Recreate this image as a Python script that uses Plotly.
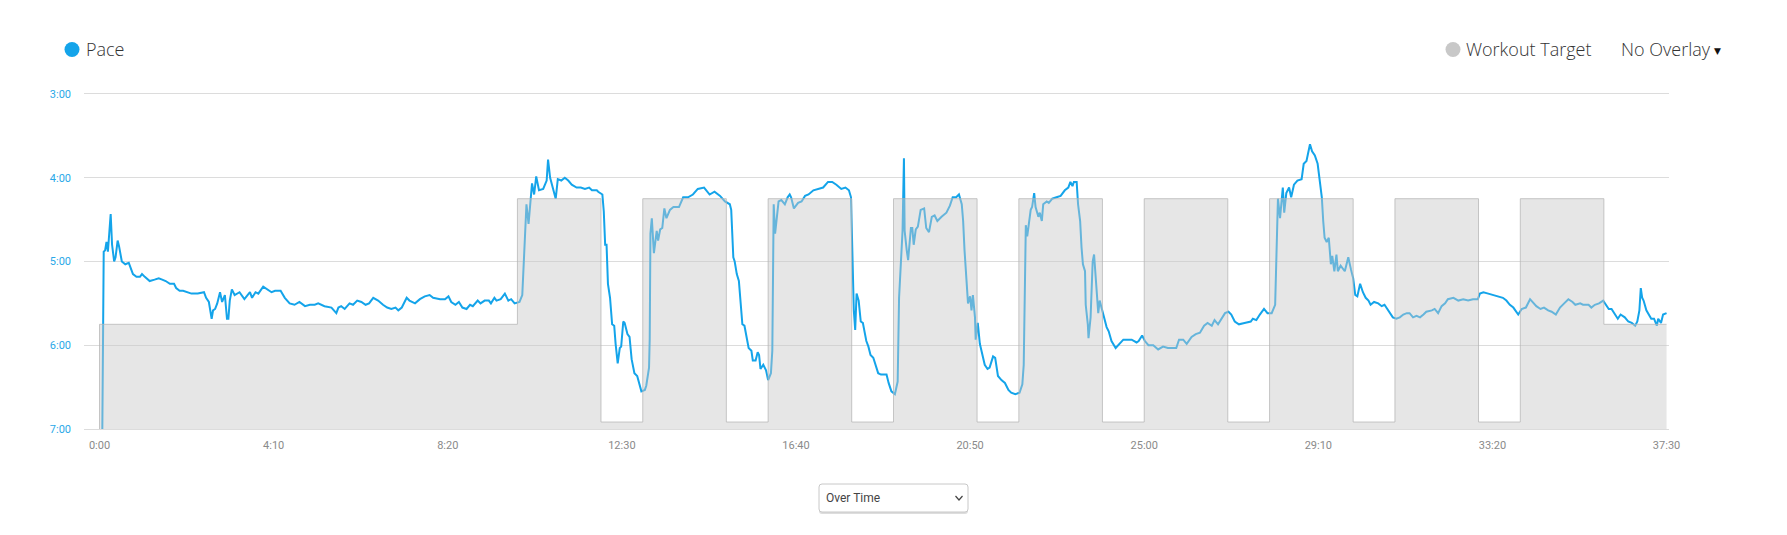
import plotly.graph_objects as go

# ---------------- data ----------------
# Pace samples: elapsed time (s) and pace (seconds per km)
time_s = [4, 6, 8, 10, 12, 16, 18, 21, 23, 26, 28, 32, 37, 42, 48, 53, 58, 61, 65, 72, 79, 85, 90, 95, 101, 107, 110,
          115, 120, 125, 132, 141, 150, 153, 157, 161, 163, 166, 169, 173, 176, 180, 183, 185, 187, 190, 194, 201, 208,
          216, 219, 224, 228, 235, 242, 247, 252, 260, 266, 273, 280, 287, 295, 302, 309, 314, 323, 333, 340, 343, 347,
          352, 359, 364, 370, 376, 382, 387, 393, 400, 407, 413, 419, 425, 429, 434, 441, 445, 453, 460, 467, 474, 479,
          489, 496, 501, 505, 511, 516, 521, 527, 532, 536, 543, 547, 553, 559, 562, 567, 570, 576, 582, 587, 591, 596,
          603, 607, 610, 613, 616, 619, 621, 624, 627, 631, 637, 642, 644, 647, 651, 655, 658, 663, 668, 673, 678, 685,
          691, 697, 703, 707, 714, 716, 722, 724, 726, 728, 730, 733, 736, 739, 741, 744, 747, 749, 752, 754, 758, 761,
          764, 768, 772, 776, 778, 783, 785, 789, 790, 791, 793, 796, 800, 802, 805, 808, 811, 814, 819, 824, 832, 838,
          845, 852, 859, 868, 876, 883, 891, 898, 905, 907, 910, 912, 915, 918, 921, 923, 926, 929, 932, 936, 938, 942,
          945, 947, 949, 953, 957, 960, 964, 966, 968, 970, 972, 975, 979, 984, 988, 991, 993, 997, 1003, 1008, 1013,
          1018, 1025, 1032, 1039, 1046, 1052, 1058, 1065, 1071, 1076, 1079, 1081, 1083, 1085, 1087, 1090, 1093, 1096,
          1099, 1101, 1104, 1107, 1111, 1114, 1118, 1122, 1127, 1130, 1133, 1137, 1142, 1146, 1148, 1151, 1153, 1155,
          1156, 1159, 1161, 1165, 1167, 1169, 1172, 1175, 1179, 1184, 1187, 1191, 1195, 1199, 1203, 1209, 1216, 1221,
          1225, 1230, 1234, 1238, 1240, 1242, 1245, 1247, 1250, 1252, 1254, 1257, 1258, 1261, 1264, 1269, 1271, 1275,
          1278, 1283, 1286, 1290, 1295, 1300, 1305, 1309, 1315, 1321, 1325, 1327, 1329, 1330, 1332, 1334, 1337, 1339,
          1342, 1344, 1348, 1350, 1353, 1355, 1360, 1363, 1368, 1374, 1380, 1386, 1391, 1394, 1397, 1399, 1403, 1405,
          1408, 1410, 1412, 1415, 1416, 1419, 1420, 1423, 1426, 1428, 1430, 1432, 1434, 1436, 1440, 1443, 1446, 1449,
          1453, 1459, 1464, 1470, 1474, 1482, 1489, 1492, 1497, 1501, 1506, 1513, 1520, 1527, 1534, 1546, 1550, 1556,
          1561, 1568, 1574, 1580, 1586, 1591, 1597, 1601, 1606, 1611, 1616, 1621, 1625, 1630, 1636, 1644, 1653, 1656,
          1661, 1666, 1672, 1677, 1683, 1688, 1690, 1692, 1695, 1697, 1699, 1701, 1704, 1708, 1711, 1715, 1720, 1726,
          1729, 1733, 1738, 1741, 1745, 1749, 1752, 1755, 1757, 1759, 1762, 1765, 1768, 1770, 1773, 1776, 1778, 1782,
          1788, 1793, 1797, 1800, 1803, 1806, 1810, 1814, 1818, 1822, 1825, 1830, 1836, 1841, 1845, 1850, 1857, 1862,
          1867, 1872, 1877, 1881, 1886, 1891, 1896, 1901, 1905, 1913, 1917, 1922, 1927, 1932, 1936, 1944, 1951, 1958,
          1965, 1972, 1979, 1982, 1987, 1994, 2001, 2008, 2015, 2020, 2025, 2030, 2035, 2037, 2042, 2048, 2054, 2059,
          2063, 2069, 2074, 2080, 2085, 2091, 2097, 2103, 2109, 2115, 2119, 2126, 2130, 2138, 2142, 2147, 2153, 2159,
          2164, 2167, 2171, 2176, 2180, 2184, 2190, 2195, 2200, 2205, 2208, 2211, 2213, 2215, 2217, 2221, 2225, 2228,
          2232, 2236, 2238, 2242, 2245, 2250]
pace_s = [420, 293, 292, 286, 293, 266, 288, 300, 297, 285, 289, 300, 302, 301, 309, 311, 311, 309, 311, 314, 313, 312,
          313, 314, 316, 316, 319, 321, 321, 322, 323, 323, 322, 326, 329, 341, 335, 334, 330, 322, 329, 324, 341, 341,
          328, 320, 324, 322, 327, 322, 326, 322, 323, 318, 320, 322, 321, 321, 326, 330, 331, 329, 332, 331, 331, 330,
          332, 333, 337, 333, 332, 334, 330, 331, 328, 329, 331, 330, 326, 328, 331, 333, 334, 333, 335, 333, 326, 328,
          330, 327, 325, 324, 326, 327, 327, 325, 329, 331, 329, 333, 334, 331, 332, 328, 330, 328, 328, 330, 326, 328,
          327, 323, 328, 327, 330, 329, 324, 295, 259, 273, 254, 244, 252, 239, 249, 248, 242, 227, 240, 248, 255, 241,
          242, 240, 242, 245, 247, 247, 248, 247, 249, 249, 250, 252, 264, 288, 288, 316, 326, 345, 346, 359, 373, 362,
          361, 343, 344, 352, 354, 370, 380, 382, 389, 393, 392, 389, 376, 355, 280, 269, 294, 278, 285, 277, 276, 262,
          269, 263, 261, 261, 254, 254, 252, 248, 247, 252, 250, 253, 257, 259, 263, 297, 300, 309, 314, 337, 345, 346,
          355, 362, 364, 371, 371, 365, 367, 377, 374, 378, 385, 380, 364, 259, 280, 269, 257, 256, 259, 254, 252, 254,
          262, 258, 257, 253, 252, 249, 248, 247, 243, 243, 245, 248, 247, 249, 254, 302, 335, 349, 323, 328, 343, 344,
          352, 357, 361, 367, 369, 374, 380, 381, 381, 381, 387, 393, 395, 386, 326, 297, 278, 226, 278, 292, 299, 276,
          276, 288, 277, 275, 263, 262, 276, 279, 268, 267, 271, 268, 265, 260, 254, 254, 252, 259, 271, 292, 314, 330,
          325, 335, 324, 340, 356, 344, 359, 370, 374, 377, 376, 368, 369, 382, 385, 387, 392, 394, 395, 394, 388, 374,
          319, 274, 282, 273, 263, 261, 251, 261, 268, 265, 271, 259, 257, 258, 255, 254, 253, 249, 247, 243, 246, 243,
          243, 259, 271, 290, 302, 307, 331, 345, 355, 340, 300, 295, 312, 328, 337, 328, 335, 341, 347, 350, 357, 362,
          359, 356, 356, 356, 358, 357, 353, 357, 360, 360, 363, 361, 362, 362, 356, 356, 359, 354, 352, 351, 346, 344,
          346, 342, 345, 341, 337, 336, 338, 343, 345, 344, 343, 341, 342, 338, 334, 337, 337, 331, 283, 255, 269, 254,
          247, 265, 251, 247, 254, 245, 242, 241, 230, 228, 216, 221, 224, 230, 242, 254, 271, 283, 286, 283, 302, 296,
          307, 295, 307, 303, 307, 297, 306, 312, 324, 325, 316, 322, 326, 328, 331, 329, 330, 332, 331, 335, 340, 341,
          340, 338, 337, 337, 340, 339, 340, 338, 336, 335, 334, 337, 332, 330, 327, 326, 328, 327, 328, 327, 327, 323,
          322, 323, 324, 325, 326, 328, 331, 333, 336, 338, 334, 333, 327, 330, 332, 334, 333, 335, 336, 338, 333, 330,
          327, 329, 331, 330, 331, 331, 333, 331, 330, 328, 332, 334, 334, 338, 341, 338, 340, 343, 344, 346, 343, 335,
          319, 326, 328, 335, 338, 341, 341, 346, 341, 344, 338, 337]

# Workout target steps: segment start time (s) and target pace (s/km)
target_start_s = [0, 600, 720, 780, 900, 960, 1080, 1140, 1260, 1320, 1440, 1500, 1620, 1680, 1800, 1860, 1980,
                  2040, 2160]
target_pace_s = [345, 255, 415, 255, 415, 255, 415, 255, 415, 255, 415, 255, 415, 255, 415, 255, 415, 255, 345]
workout_end_s = 2250

x_tick_vals = [0, 250, 500, 750, 1000, 1250, 1500, 1750, 2000, 2250]
x_tick_text = ["0:00", "4:10", "8:20", "12:30", "16:40", "20:50", "25:00", "29:10", "33:20", "37:30"]
y_tick_vals = [180, 240, 300, 360, 420]
y_tick_text = ["3:00", "4:00", "5:00", "6:00", "7:00"]

# ---------------- layout geometry ----------------
W, H = 1787, 535
ML, MR, MT, MB = 76, 126, 86, 114
PW, PH = W - ML - MR, H - MT - MB


def px(xp):
    return (xp - ML) / PW


def py(yp):
    return (H - MB - yp) / PH


PACE_BLUE = "#14a4ea"
LEGEND_FONT = dict(family="Open Sans", size=18, color="#333333", weight=300)

fig = go.Figure()

# pace line
fig.add_trace(go.Scatter(x=time_s, y=pace_s, mode="lines",
                         line=dict(color=PACE_BLUE, width=2), name="Pace",
                         showlegend=False, hoverinfo="skip"))

# baseline for target fill (bottom of axis)
fig.add_trace(go.Scatter(x=[0, workout_end_s], y=[y_tick_vals[-1], y_tick_vals[-1]], mode="lines",
                         line=dict(width=0, color="rgba(0,0,0,0)"), showlegend=False, hoverinfo="skip"))

# workout target step area, drawn over the pace line
tx = [0] + target_start_s + [workout_end_s]
ty = [y_tick_vals[-1]] + target_pace_s + [target_pace_s[-1]]
fig.add_trace(go.Scatter(x=tx, y=ty, mode="lines", line_shape="hv",
                         line=dict(color="rgba(180,180,180,0.75)", width=1),
                         fill="tonexty", fillcolor="rgba(200,200,200,0.46)",
                         name="Workout Target", showlegend=False, hoverinfo="skip"))

shapes = []
annotations = []

# legend: Pace
shapes.append(dict(type="circle", xref="paper", yref="paper", xsizemode="pixel", ysizemode="pixel",
                   xanchor=px(64), yanchor=py(41.5), x0=-7.5, x1=7.5, y0=-7.5, y1=7.5,
                   fillcolor=PACE_BLUE, line=dict(width=0)))
annotations.append(dict(text="Pace", xref="paper", yref="paper", x=px(75.5), y=py(41.5),
                        xanchor="left", yanchor="middle", showarrow=False, font=LEGEND_FONT))
# legend: Workout Target
shapes.append(dict(type="circle", xref="paper", yref="paper", xsizemode="pixel", ysizemode="pixel",
                   xanchor=px(1445), yanchor=py(41.5), x0=-7.5, x1=7.5, y0=-7.5, y1=7.5,
                   fillcolor="#c8c8c8", line=dict(width=0)))
annotations.append(dict(text="Workout Target", xref="paper", yref="paper", x=px(1455.5), y=py(41.5),
                        xanchor="left", yanchor="middle", showarrow=False, font=LEGEND_FONT))
annotations.append(dict(text="No Overlay", xref="paper", yref="paper", x=px(1611), y=py(41.5),
                        xanchor="left", yanchor="middle", showarrow=False, font=LEGEND_FONT))
annotations.append(dict(text="▼", xref="paper", yref="paper", x=px(1709), y=py(43),
                        xanchor="center", yanchor="middle", showarrow=False,
                        font=dict(family="DejaVu Sans", size=9, color="#111111")))

# dropdown "Over Time"
bx0, by0, bx1, by1 = 811, 476, 960, 504
bw, bh, r = bx1 - bx0, by1 - by0, 3


def rrect(w, h, r):
    return (f"M {r},0 L {w - r},0 Q {w},0 {w},{r} L {w},{h - r} Q {w},{h} {w - r},{h} "
            f"L {r},{h} Q 0,{h} 0,{h - r} L 0,{r} Q 0,0 {r},0 Z")


shapes.append(dict(type="path", xref="paper", yref="paper", xsizemode="pixel", ysizemode="pixel",
                   xanchor=px(bx0), yanchor=py(by1 + 2), path=rrect(bw, bh, r),
                   fillcolor="#dddddd", line=dict(width=0)))
shapes.append(dict(type="path", xref="paper", yref="paper", xsizemode="pixel", ysizemode="pixel",
                   xanchor=px(bx0), yanchor=py(by1), path=rrect(bw, bh, r),
                   fillcolor="#ffffff", line=dict(color="#c8c8c8", width=1)))
shapes.append(dict(type="path", xref="paper", yref="paper", xsizemode="pixel", ysizemode="pixel",
                   xanchor=px(951), yanchor=py(490), path="M -3.5,2 L 0,-2 L 3.5,2",
                   line=dict(color="#444444", width=1.2)))
annotations.append(dict(text="Over Time", xref="paper", yref="paper", x=px(816), y=py(490),
                        xanchor="left", yanchor="middle", showarrow=False,
                        font=dict(family="Roboto", size=12, color="#444444")))

fig.update_layout(
    width=W, height=H,
    margin=dict(l=ML, r=MR, t=MT, b=MB, pad=0),
    paper_bgcolor="white", plot_bgcolor="white",
    showlegend=False,
    shapes=shapes, annotations=annotations,
    xaxis=dict(range=[-22.3, 2253.5], tickmode="array", tickvals=x_tick_vals, ticktext=x_tick_text,
               showgrid=False, zeroline=False, showline=True, mirror=True, linecolor="#dcdcdc", linewidth=1,
               ticks="", tickfont=dict(family="Roboto", size=11, color="#8a8a8a"),
               ticklabelstandoff=6),
    yaxis=dict(range=[420, 180], tickmode="array", tickvals=y_tick_vals, ticktext=y_tick_text,
               showgrid=True, gridcolor="#dcdcdc", gridwidth=1, zeroline=False, showline=False,
               ticks="", tickfont=dict(family="Roboto", size=11, color="#2aa8e8"),
               ticklabelstandoff=12),
)

fig.write_html("out.html", config={"displayModeBar": False})
